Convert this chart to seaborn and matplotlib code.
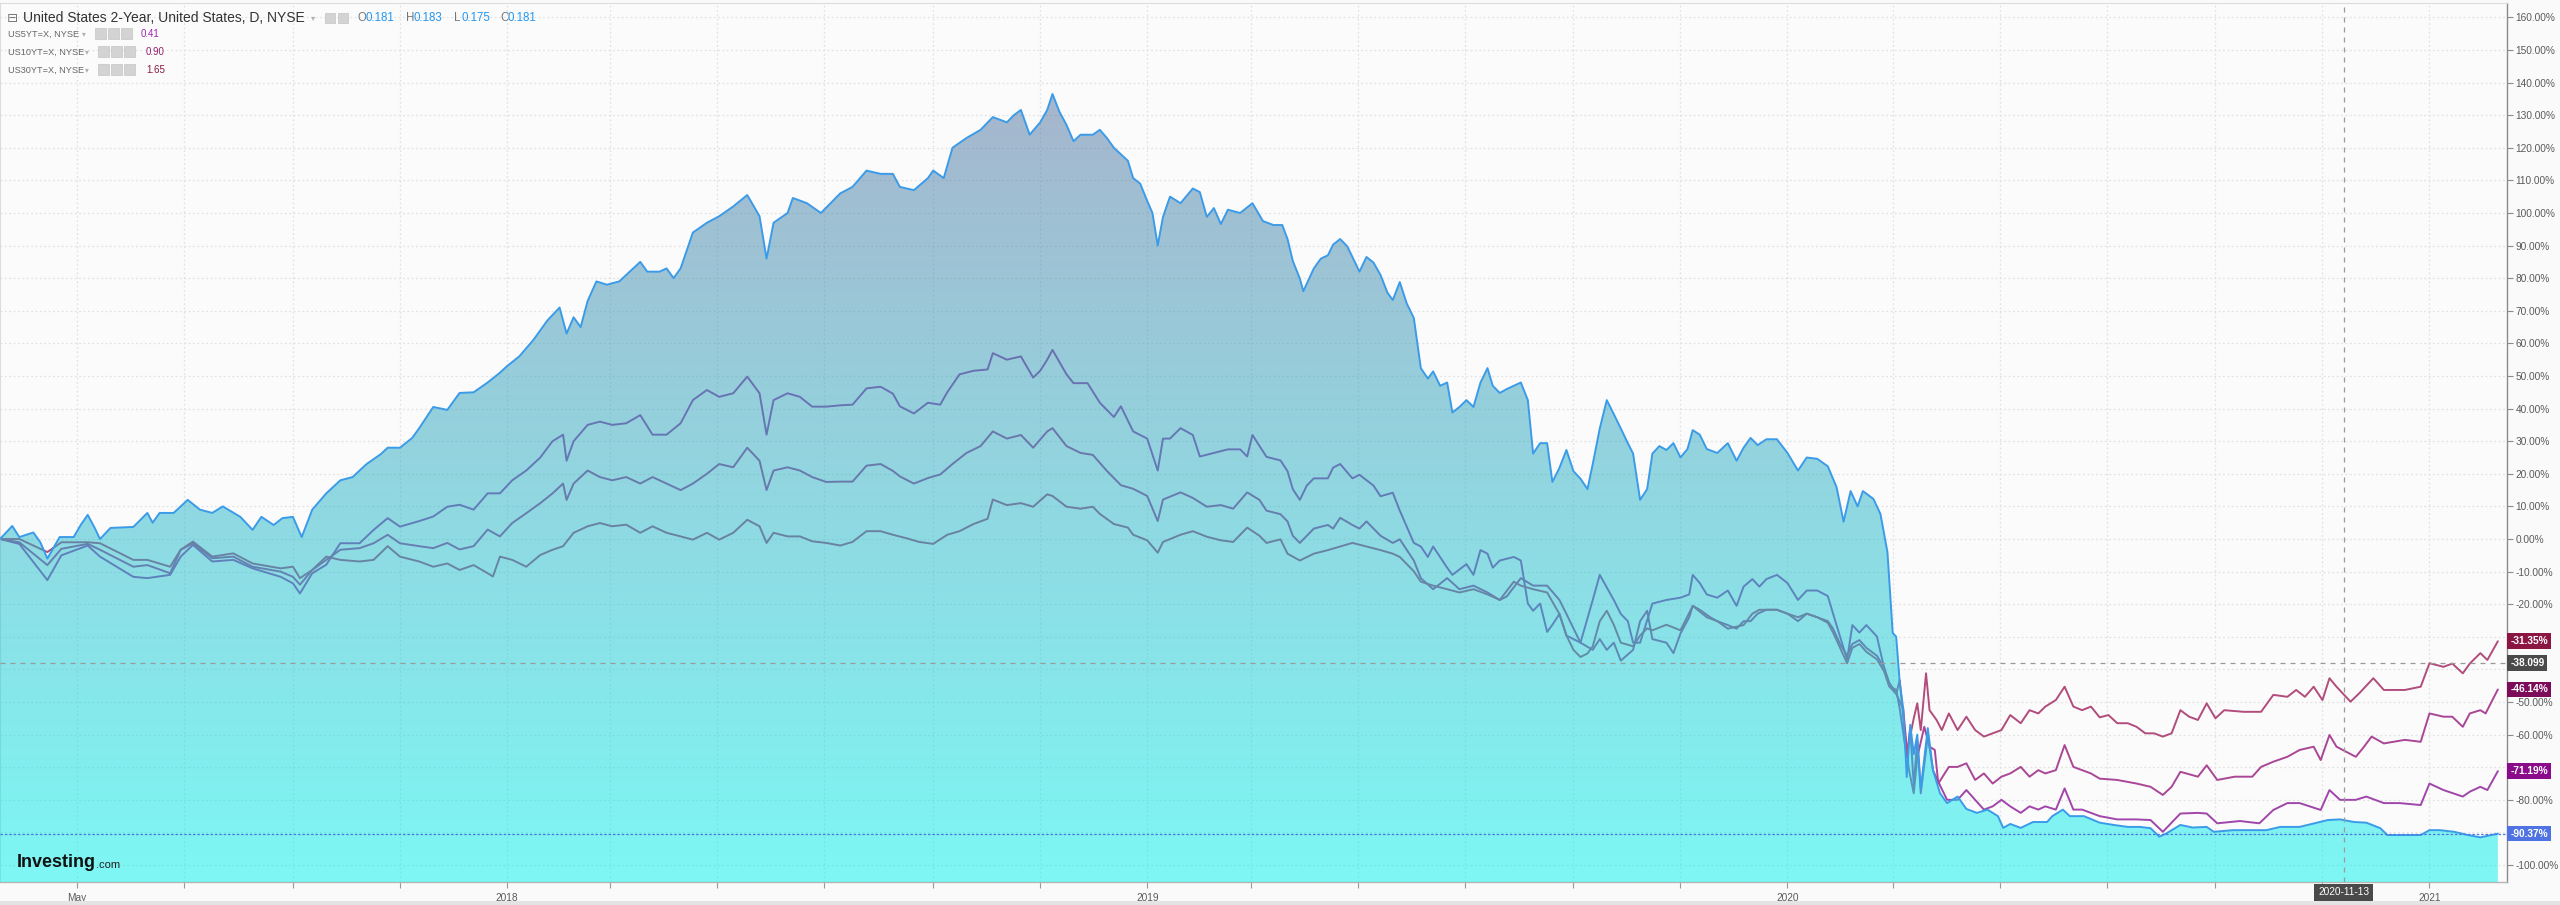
import numpy as np
import pandas as pd
import matplotlib
matplotlib.use("Agg")
import matplotlib.pyplot as plt
import matplotlib.dates as mdates
import matplotlib.transforms as mtrans
from matplotlib.patches import Rectangle
import seaborn as sns

# ---------------- data (percent change since start) ----------------
START = "2017-03-18"

us2_days = [0,7,11,19,23,27,34,42,46,50,54,57,63,76,84,87,91,99,107,114,121,127,137,144,149,156,161,167,172,178,186,194,201,209,217,221,228,235,239,247,255,262,270,278,285,289,296,304,312,319,323,327,331,335,340,346,353,365,369,376,380,384,388,395,403,410,418,426,433,437,441,449,452,460,468,479,486,494,502,509,513,521,529,532,538,543,551,559,566,574,578,582,587,593,597,600,604,608,612,616,623,627,631,635,643,646,650,654,657,660,663,667,673,680,684,688,692,696,700,707,714,720,726,731,734,737,741,743,749,753,757,760,764,768,771,775,779,783,787,791,794,798,802,806,810,814,817,821,825,828,832,836,840,844,848,851,855,859,863,867,871,874,878,882,885,889,893,897,901,905,908,912,916,920,924,928,931,935,939,942,946,950,954,958,962,965,969,973,979,985,990,994,998,1002,1007,1013,1019,1025,1030,1036,1042,1047,1051,1055,1059,1062,1068,1072,1076,1079,1081,1083,1085,1087,1089,1091,1093,1095,1099,1102,1106,1110,1116,1121,1127,1133,1139,1142,1146,1152,1159,1167,1170,1176,1180,1188,1197,1205,1213,1220,1226,1231,1235,1243,1250,1258,1262,1273,1283,1292,1300,1311,1321,1327,1334,1342,1349,1357,1361,1368,1380,1385,1391,1399,1407,1414,1424]
us2_vals = [0,4,0.6,2,-1,-6,0.6,0.6,4.3,7.4,3.4,0,3.4,3.7,8,5,8,8,12,9,8,10,6.8,2.8,6.8,4.3,6.4,6.8,0.6,9,14,18,19,23,26,28,28,31,34,40.5,39.6,44.8,45,48,51,53,56,61,67,71,63,68,65,73,79,78,79,85,82,82,83,80,83,94,97,99,102,105.5,99,86,97,100,104.6,103,100,106,108,113,112,112,108,107,110.7,113,110.7,120,123,125.5,129.4,127.8,130,131.6,124,127.8,131.6,136.5,131,127,122,124,124,125.5,123,120,116,110.7,109,103.7,100,90,98.8,105,103,107.5,106.4,98.8,101.5,96.6,101,100,103,97.5,96.3,96.3,92,85.3,79.9,76,83,86,87,90.3,92,89.8,86.5,82,86.5,84.8,81,75.5,73.3,78.8,72.2,67.8,52.4,49.2,51.4,47,48,38.8,40.5,42.6,40.5,48,52.4,47,44.8,46,47,48,42.6,26.2,29.4,29.4,17.5,21.8,27.3,20.8,18.5,15.3,23,33.9,42.6,38.3,33.9,29.4,26.2,12,15.3,26.2,28.5,27.3,29.4,25,27.6,33.4,32,27.6,26.4,29.4,24,28,31,28.8,30.6,30.6,26.4,21,25,24.6,22.3,15.9,5.3,14.7,10,14.7,12.3,7.7,-4,-28.8,-30,-44,-52,-73,-57,-66,-60,-76.6,-58,-71,-78,-81,-79,-82.8,-84,-83,-85,-88.6,-87.4,-88.6,-86.8,-86.8,-85,-83,-85,-85,-87,-87.7,-88.3,-88.3,-88.7,-91.3,-90.3,-87.7,-88.5,-88.3,-89.8,-89.3,-89.3,-89.3,-88.3,-88.3,-87,-86.2,-86,-86.8,-87,-88.7,-90.8,-90.8,-90.8,-89.3,-89.3,-89.8,-90.8,-91.5,-90.37]

us5_days = [0,11,27,35,50,57,76,84,97,103,110,121,133,144,160,167,171,178,186,194,205,213,221,228,239,247,255,262,270,278,285,292,300,308,315,321,323,327,335,342,349,357,365,372,380,388,395,403,410,418,426,433,437,441,449,456,463,471,479,486,494,502,509,513,521,529,536,540,547,555,563,566,574,582,589,593,597,600,608,612,620,627,635,639,646,654,660,663,667,673,680,684,692,700,707,711,714,722,730,734,737,741,745,749,757,760,764,771,775,783,787,794,798,806,810,814,817,825,828,836,840,844,848,851,855,863,867,871,874,878,882,885,889,893,901,908,912,920,924,928,931,935,942,950,958,963,965,969,973,979,985,990,994,999,1003,1007,1013,1019,1025,1030,1036,1042,1045,1049,1053,1056,1060,1064,1070,1074,1077,1081,1083,1087,1089,1091,1093,1095,1099,1102,1106,1110,1116,1121,1126,1131,1136,1141,1146,1152,1157,1162,1166,1172,1177,1182,1187,1192,1197,1207,1218,1226,1233,1238,1243,1253,1258,1264,1277,1288,1296,1304,1311,1323,1328,1334,1343,1349,1359,1368,1380,1385,1393,1404,1408,1414,1418,1424]
us5_vals = [0,-1.5,-12.6,-5,-2,-5.4,-11.6,-12,-11,-5.4,-1.8,-6.9,-6.4,-9,-11.6,-13.6,-16.7,-10.5,-7.9,-1.3,-1.3,2.8,6.4,3.8,5.5,6.9,9.9,10.5,9,14,14,18,21,25,30,32,24,30,35,36,35,35.5,38,32,32,35.5,42.6,45.7,43.6,44.7,49.8,44.7,32,42.6,44.7,43.6,40.6,40.6,41,41.2,46.2,46.7,44.6,40.7,38.5,41.8,41.2,45,50.5,51.6,52,57,55,56,49.5,51.6,55,58,50.5,47.8,47.8,41.8,37.4,40.7,33,30.8,21,30.8,30.8,34,31.9,25.3,26.4,27.5,27.5,25.3,31.9,25.2,24.1,20.8,15.3,12,16.4,18.6,18.6,21.9,23,18.6,19.7,16.4,13.1,14.2,8.7,-1.2,-2.3,-5.5,-2.3,-8.8,-11,-7.7,-11,-3.4,-4.5,-8.8,-6.6,-5.5,-6.6,-19.8,-22,-19.8,-28.5,-26.3,-23,-29.6,-31.8,-18.7,-11,-18.7,-23,-25.2,-31.8,-31.8,-19.8,-18.7,-18,-17,-11,-13.5,-17,-18,-15.8,-20.5,-14.6,-12.3,-14.6,-12.3,-11,-13.5,-18.7,-15.8,-15.8,-17.5,-22.9,-29.9,-37,-26.4,-28.7,-26.4,-29.9,-39.3,-45,-46.3,-52,-67,-58,-75.6,-61.6,-78,-60.4,-71,-75.6,-80,-80,-77,-80,-83,-82,-80,-82,-84,-82,-83,-82,-83,-76.5,-83,-83,-84,-85,-86,-86,-86.2,-89.8,-87,-84.2,-84,-84.2,-87.2,-86.5,-87.2,-83.1,-81,-81,-83.1,-77,-80,-80,-79,-81,-81,-81.6,-75,-77,-79,-77.5,-76,-77,-71.19]

us10_days = [0,11,27,35,50,57,76,84,97,103,110,121,133,144,160,167,171,178,186,194,205,213,221,228,239,247,255,262,270,278,285,292,300,308,315,321,323,327,335,342,349,357,365,372,380,388,395,403,410,418,426,433,437,441,449,456,463,471,479,486,494,502,509,513,521,529,536,543,551,559,566,574,582,589,597,600,608,616,623,631,639,646,654,660,663,673,680,688,696,703,711,718,722,730,734,737,741,745,749,757,760,764,771,775,779,787,794,798,806,810,817,825,832,840,848,855,859,867,874,882,889,893,897,901,908,912,916,920,924,931,935,939,942,950,954,958,963,965,969,975,979,985,990,994,998,1002,1007,1013,1019,1025,1030,1036,1042,1045,1049,1053,1056,1060,1064,1070,1074,1077,1081,1085,1088,1091,1093,1097,1100,1103,1105,1111,1116,1121,1126,1131,1136,1141,1146,1152,1157,1162,1166,1172,1177,1182,1187,1192,1197,1207,1218,1226,1233,1238,1243,1253,1258,1264,1274,1284,1289,1296,1304,1311,1319,1323,1328,1332,1343,1347,1352,1359,1371,1380,1385,1393,1398,1404,1408,1414,1417,1424]
us10_vals = [0,-1,-8,-3,-1.5,-3.3,-8.5,-8,-10.5,-3.3,-1.3,-5.9,-5.4,-8.5,-10,-11.6,-14,-9.5,-6.4,-3.3,-2.8,-1.3,1.3,-1.3,-2.2,-2.8,-1.2,-3.2,-2.2,2.9,0.8,4.9,7.9,11,14,17,12,17,21,19,18,19,17,19,17,15,17,20,23,22,28,24,15,21,22,21,19,17.5,17.6,17.6,22.5,23,20.9,19.2,17,18.7,19.8,23,26.4,28.5,33,30.8,31.9,28,33,34,28.5,26.4,25.8,20.9,16.5,15.4,13.2,5.5,12.1,14.3,12.6,9.9,10.4,9.3,14.3,12,8.7,7.6,5.4,1,-1.2,1,3.2,4.3,3.2,6.5,4.3,3.2,5.4,1,-1.2,-0.1,-6.6,-12,-15.4,-12,-15.4,-14.3,-16.4,-18.7,-17.6,-12,-14.3,-14.3,-18.7,-23,-27.4,-31.8,-34,-30.7,-34,-31.8,-37.3,-34,-25.2,-22,-30.7,-31.8,-35,-29,-24,-20.5,-21.7,-24,-25.2,-26.4,-27.5,-25.2,-25.2,-22.9,-21.7,-21.7,-22.9,-25.2,-22.9,-24,-25.2,-27.5,-32.2,-35.8,-32.2,-31,-33.4,-35.8,-39.3,-44,-47.5,-52.2,-70,-78,-67,-57.6,-63.7,-64.7,-75,-69.9,-69.9,-68.8,-73.9,-71.9,-75,-72.9,-71.9,-69.9,-72.9,-70.9,-71.9,-70.9,-63.2,-69.9,-70.9,-71.9,-73.5,-73.9,-75,-76,-78.5,-76,-71.4,-72.9,-69.4,-73.9,-72.9,-72.9,-69.9,-68.3,-66.8,-64.7,-63.7,-67.8,-60.1,-63.7,-66.8,-64.2,-60.6,-62.7,-61.6,-62.2,-53.5,-54.5,-54.5,-57.6,-53.5,-52.5,-53.5,-46.14]

us30_days = [0,11,27,35,50,57,76,84,97,103,110,121,133,144,160,167,171,178,186,194,205,213,221,228,239,247,255,262,270,278,281,285,292,300,308,315,321,327,335,342,349,357,365,372,380,388,395,403,410,418,426,433,437,441,449,456,463,471,479,486,494,502,509,517,524,532,540,547,555,563,566,574,582,589,597,600,608,616,623,627,635,643,646,654,660,663,673,680,688,696,703,711,718,722,730,734,741,749,757,764,771,779,787,794,798,806,810,817,825,832,840,848,855,863,867,874,882,889,893,897,901,905,908,912,916,920,924,931,935,939,942,950,958,965,973,979,985,990,994,999,1003,1013,1019,1025,1030,1036,1042,1045,1049,1053,1056,1060,1064,1070,1074,1077,1081,1083,1087,1091,1093,1095,1098,1100,1104,1107,1111,1116,1121,1126,1131,1136,1141,1146,1152,1157,1162,1166,1172,1177,1182,1187,1192,1197,1202,1207,1213,1218,1223,1228,1233,1238,1243,1248,1253,1258,1263,1268,1279,1289,1296,1304,1309,1314,1319,1324,1328,1332,1340,1345,1353,1359,1371,1380,1385,1393,1398,1404,1408,1414,1418,1424]
us30_vals = [0,0,-4,-1,-1,-1.3,-6.4,-6.4,-8.5,-3.3,-0.8,-5.4,-4.4,-7.5,-9,-8.5,-12,-9.5,-5.4,-6.4,-6.9,-6.4,-2.2,-5.4,-6.9,-8.5,-7.5,-9.5,-8,-10.5,-11.5,-5.4,-6.4,-8.5,-4.9,-3.3,-2.2,1.9,3.9,4.9,3.9,4.4,1.9,3.9,1.9,0.8,-0.2,1.9,-0.2,1.9,5.9,3.9,-1.2,1.9,0.8,0.8,-0.7,-1.2,-2,-0.9,2.4,2.4,1.3,0.2,-0.9,-1.5,1.3,2.4,4.6,6.2,12.1,10.4,11,9.9,13.7,13.2,9.9,9.3,9.9,7.7,4.6,3.5,1.3,-0.4,-4.2,-0.9,1.3,2.4,0.7,-0.4,-0.9,3.5,1,-1.2,-0.1,-4.5,-6.6,-4.5,-3.4,-2.3,-1.2,-2.3,-3.4,-4.5,-5.5,-9.9,-13.1,-14.3,-15.4,-16.4,-15.4,-17,-18.7,-13.1,-14.3,-15.4,-16.4,-23,-29.6,-34,-36.2,-35.1,-32.9,-25.2,-22,-26.3,-31.8,-32.9,-29.6,-27.4,-28,-26.3,-28,-20.5,-24,-25.2,-27.5,-26.9,-26.4,-22.9,-21.7,-21.7,-22.9,-24,-22.9,-24,-25.7,-28.7,-33.4,-38.1,-33.4,-32.2,-34.6,-36.9,-40.5,-45.2,-47.5,-43.3,-65.7,-55,-50.4,-58.6,-41.2,-52.5,-55.5,-58.6,-53.5,-58.6,-54.5,-58.6,-60.6,-59.6,-58.6,-54,-56.5,-52.5,-53.5,-51.4,-49.4,-45.3,-51.4,-52.5,-51.4,-54.7,-54,-56.5,-56.5,-57.6,-59.6,-59.6,-60.6,-59.6,-52.5,-54.5,-55.5,-50.4,-55,-52.5,-53,-53,-47.8,-48.4,-46.3,-48.4,-45.3,-49.4,-42.7,-45.3,-49.9,-47.3,-42.7,-46.3,-46.3,-45.3,-38.1,-39.2,-38.2,-41.2,-38.2,-35,-37.1,-31.35]

series_colors = {"US5YT=X": "#a046aa", "US10YT=X": "#aa4696", "US30YT=X": "#b24c7c"}

y_tick_values = list(range(-100, 161, 10))
y_hidden_labels = [-90, -70, -40, -30]   # covered by the value boxes in the reference
x_label_dates = ["2017-05-01", "2018-01-01", "2019-01-01", "2020-01-01", "2021-01-01"]
x_label_texts = ["May", "2018", "2019", "2020", "2021"]
x_minor_dates = ["2017-07-01", "2017-09-01", "2017-11-01", "2018-03-01", "2018-05-01",
                 "2018-07-01", "2018-09-01", "2018-11-01", "2019-03-01", "2019-05-01",
                 "2019-07-01", "2019-09-01", "2019-11-01", "2020-03-01", "2020-05-01",
                 "2020-07-01", "2020-09-01", "2020-11-01"]

last_value_labels = [(-31.35, "-31.35%", "#8b1642"), (-38.099, "-38.099", "#4a4a4a"),
                     (-46.14, "-46.14%", "#7c0b5a"), (-71.19, "-71.19%", "#8b0c8b"),
                     (-90.37, "-90.37%", "#4f73e3")]
cross_date = "2020-11-13"
cross_value = -38.099
last_2y_value = -90.37

header_values = {"O": "0.181", "H": "0.183", "L": "0.175", "C": "0.181"}
legend_rows = [("US5YT=X, NYSE", "0.41", "#9c27b0"),
               ("US10YT=X, NYSE", "0.90", "#96206e"),
               ("US30YT=X, NYSE", "1.65", "#8b1a3c")]

# ---------------- build frames ----------------
start = pd.Timestamp(START)
def to_dates(days):
    return start + pd.to_timedelta(days, unit="D")

df2 = pd.DataFrame({"date": to_dates(us2_days), "value": us2_vals})
frames = []
for name, d, v in [("US5YT=X", us5_days, us5_vals), ("US10YT=X", us10_days, us10_vals),
                   ("US30YT=X", us30_days, us30_vals)]:
    frames.append(pd.DataFrame({"date": to_dates(d), "value": v, "series": name}))
dfl = pd.concat(frames, ignore_index=True)

# ---------------- figure ----------------
sns.set_style("white")
plt.rcParams["font.family"] = ["Liberation Sans", "DejaVu Sans"]

W, H = 2560, 905
fig = plt.figure(figsize=(W / 100, H / 100), dpi=100, facecolor="#fafafa")
ax_left, ax_right, ax_top, ax_bot = 0, 2507, 3, 882
ax = fig.add_axes([ax_left / W, 1 - ax_bot / H, (ax_right - ax_left) / W, (ax_bot - ax_top) / H])
ax.set_facecolor("#fbfbfb")

ymin, ymax = -105.2, 164.4
xmin = mdates.date2num(start)
xmax = mdates.date2num(start + pd.Timedelta(days=1429.2))
ax.set_xlim(xmin, xmax)
ax.set_ylim(ymin, ymax)

# grid
ax.set_axisbelow(True)
ax.set_yticks(y_tick_values)
ax.set_xticks(mdates.date2num(pd.to_datetime(x_label_dates)))
ax.set_xticklabels(x_label_texts)
ax.set_xticks(mdates.date2num(pd.to_datetime(x_minor_dates)), minor=True)
ax.grid(True, which="both", color="#e2e2e2", linestyle=(0, (1.5, 2)), linewidth=0.9)

# yield lines (below the area so they look tinted inside it)
sns.lineplot(data=dfl, x="date", y="value", hue="series", palette=series_colors,
             estimator=None, sort=False, legend=False, linewidth=1.4, ax=ax, zorder=2)

# gradient area for the 2-year
x2 = mdates.date2num(df2["date"])
y2 = df2["value"].values
poly = ax.fill_between(x2, y2, ymin, facecolor="none", edgecolor="none", zorder=3)
alpha = 0.5
bg = np.array([251, 251, 251])
d_top = np.array([170, 174, 200])
d_bot = np.array([124, 247, 244])
t = np.linspace(0, 1, 256)[:, None]
disp = d_top * (1 - t) + d_bot * t
under = np.clip((disp - (1 - alpha) * bg) / alpha, 0, 255) / 255.0
img = np.concatenate([under, np.full((256, 1), alpha)], axis=1).reshape(256, 1, 4)
im = ax.imshow(img, extent=[xmin, xmax, ymin, ymax], aspect="auto", origin="upper",
               zorder=3, interpolation="bilinear")
im.set_clip_path(poly.get_paths()[0], transform=ax.transData)

sns.lineplot(data=df2, x="date", y="value", color="#3b9be8", linewidth=1.4,
             estimator=None, sort=False, ax=ax, zorder=4)

# last-value line of the 2Y and crosshair
ax.axhline(last_2y_value, color="#4f73e3", linewidth=0.9, linestyle=(0, (2, 1.5)), zorder=5)
cx = mdates.date2num(pd.Timestamp(cross_date))
ax.axvline(cx, color="#9a9a9a", linewidth=0.9, linestyle=(0, (4, 4)), zorder=5)
ax.axhline(cross_value, color="#9a9a9a", linewidth=0.9, linestyle=(0, (4, 4)), zorder=5)

ax.set_xlabel("")
ax.set_ylabel("")

# axes styling
ax.yaxis.tick_right()
ax.set_yticklabels(["" if v in y_hidden_labels else f"{v:.2f}%" for v in y_tick_values])
ax.tick_params(axis="y", which="major", right=True, left=False, length=4, width=0.8,
               color="#8a8a8a", labelsize=7.3, labelcolor="#5a5a5a", pad=2)
ax.tick_params(axis="x", which="both", bottom=True, length=4, width=0.8, color="#9a9a9a",
               labelsize=7.3, labelcolor="#5a5a5a", pad=4)
for side in ["top", "left"]:
    ax.spines[side].set_color("#dcdcdc")
    ax.spines[side].set_linewidth(0.8)
ax.spines["right"].set_color("#8a8a8a")
ax.spines["right"].set_linewidth(1.0)
ax.spines["bottom"].set_color("#b5b5b5")
ax.spines["bottom"].set_linewidth(1.0)

# value labels on the price scale
blend = mtrans.blended_transform_factory(ax.transAxes, ax.transData)
for val, txt, col in last_value_labels:
    ax.text(1.0013, val, txt, transform=blend, ha="left", va="center", fontsize=7.3,
            color="white", fontweight="bold", zorder=10, clip_on=False,
            bbox=dict(boxstyle="square,pad=0.28", fc=col, ec="none"))

# crosshair date label
blend_x = mtrans.blended_transform_factory(ax.transData, ax.transAxes)
ax.text(cx, -0.006, cross_date, transform=blend_x, ha="center", va="top", fontsize=7.3,
        color="white", zorder=10, clip_on=False,
        bbox=dict(boxstyle="square,pad=0.35", fc="#4a4a4a", ec="none"))

# bottom border band
fig.patches.append(Rectangle((0, 0), 1, 4 / H, transform=fig.transFigure,
                             fc="#e4e4e4", ec="none", zorder=0))

# ---------------- header legend ----------------
def fx(px):
    return px / W

def fy(py):
    return 1 - py / H

def icon(px, py, w=10, h=10):
    fig.patches.append(Rectangle((fx(px), fy(py + h / 2)), w / W, h / H, transform=fig.transFigure,
                                 fc="#d3d3d3", ec="#c4c4c4", lw=0.5, zorder=5))

fig.text(fx(7), fy(18), "\u229f", fontsize=9.5, color="#777777", va="center", ha="left",
         family=["DejaVu Sans"])
fig.text(fx(23), fy(18), "United States 2-Year, United States, D, NYSE", fontsize=10,
         color="#333333", va="center", ha="left")
fig.text(fx(311), fy(18), "\u25be", fontsize=6, color="#b0b0b0", va="center", ha="left",
         family=["DejaVu Sans"])
icon(325, 18)
icon(338, 18)
hx = [357, 406, 454, 500]
for (k, v), px in zip(header_values.items(), hx):
    fig.text(fx(px), fy(18), k, fontsize=8.3, color="#777777", va="center", ha="left")
    fig.text(fx(px + 8), fy(18), v, fontsize=8.3, color="#2196f3", va="center", ha="left")

row_y = [34, 52, 70]
icon_x = [95, 98, 98]
val_x = [141, 146, 146]
for (lbl, val, col), py, ix, vx in zip(legend_rows, row_y, icon_x, val_x):
    fig.text(fx(8), fy(py), lbl, fontsize=6.6, color="#666666", va="center", ha="left")
    fig.text(fx(ix - 13), fy(py), "\u25be", fontsize=5.5, color="#b0b0b0", va="center",
             ha="left", family=["DejaVu Sans"])
    for k in range(3):
        icon(ix + k * 13, py, w=11, h=11)
    fig.text(fx(vx), fy(py), val, fontsize=7, color=col, va="center", ha="left")

# watermark logo
fig.text(fx(17), fy(862), "Investing", fontsize=13, fontweight="bold", color="#111111",
         va="center", ha="left", zorder=10)
fig.text(fx(96), fy(865), ".com", fontsize=8, color="#222222", va="center", ha="left",
         zorder=10)

fig.savefig("out.png", dpi=100, facecolor=fig.get_facecolor())
